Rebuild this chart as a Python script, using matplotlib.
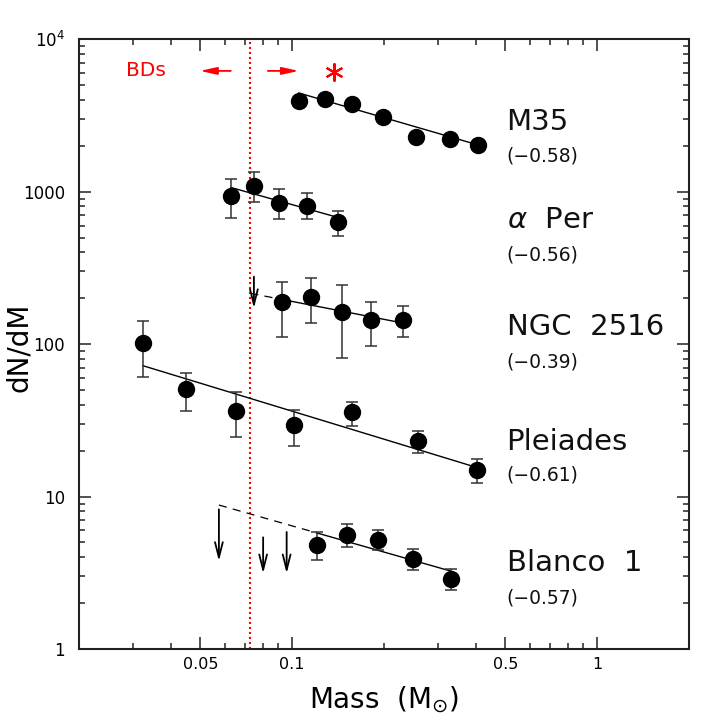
import matplotlib
matplotlib.use('Agg')
import matplotlib.pyplot as plt
import numpy as np
from matplotlib.ticker import FixedLocator, FixedFormatter, NullFormatter

plt.rcParams['font.family'] = ['DejaVu Sans']
plt.rcParams['mathtext.fontset'] = 'dejavusans'

# M35
m35_mass = [0.105, 0.128, 0.157, 0.198, 0.254, 0.329, 0.406]
m35_dndm = [3920, 4060, 3745, 3077, 2296, 2228, 2025]

# alpha Per
aper_mass = [0.0629, 0.0749, 0.0902, 0.112, 0.1416]
aper_dndm = [937, 1095, 847, 809, 630]
aper_hi = [1211, 1340, 1037, 976, 750]
aper_lo = [669, 852, 659, 659, 514]

# NGC 2516
ngc_mass = [0.0927, 0.1149, 0.1453, 0.1813, 0.2303]
ngc_dndm = [188, 205, 162.5, 143, 144.5]
ngc_hi = [257, 270, 245, 189, 177]
ngc_lo = [111, 137, 81.5, 97.6, 111]
ngc_lim_mass = [0.0749]
ngc_lim_top = [277]
ngc_lim_bot = [172]

# Pleiades
ple_mass = [0.0324, 0.045, 0.0652, 0.1015, 0.1574, 0.259, 0.4027]
ple_dndm = [101, 50.5, 36.6, 29.3, 35.7, 23.1, 14.9]
ple_hi = [142, 64.9, 48.5, 36.8, 41.7, 26.8, 17.6]
ple_lo = [61.1, 36.4, 24.5, 21.4, 29.1, 19.4, 12.2]

# Blanco 1
bla_mass = [0.1206, 0.1509, 0.1907, 0.2494, 0.3311]
bla_dndm = [4.81, 5.59, 5.18, 3.91, 2.89]
bla_hi = [5.82, 6.6, 6.0, 4.5, 3.33]
bla_lo = [3.83, 4.64, 4.43, 3.31, 2.44]
bla_lim_mass = [0.0575, 0.0803, 0.0959]
bla_lim_top = [8.24, 5.4, 5.85]
bla_lim_bot = [3.77, 3.13, 3.13]

# power-law fits: slope, reference mass, value at reference mass
cluster_names = ['M35', r'$\alpha$  Per', 'NGC  2516', 'Pleiades', 'Blanco  1']
fit_slopes = [-0.58, -0.56, -0.39, -0.61, -0.57]
fit_ref_mass = [0.198, 0.0629, 0.0725, 0.0324, 0.0575]
fit_ref_val = [3077, 1066, 216, 72.2, 8.8]

bd_limit = 0.0725

fig = plt.figure(figsize=(7.27, 7.27), dpi=100)
ax = fig.add_axes([0.1087, 0.1073, 0.8390, 0.8387])
ax.set_xscale('log')
ax.set_yscale('log')
ax.set_xlim(0.02, 2.0)
ax.set_ylim(1, 1e4)

marker_kw = dict(fmt='o', color='black', markersize=11.5, ecolor='#333333',
                 elinewidth=1.1, capsize=4.5, capthick=1.1, zorder=3)

ax.plot(m35_mass, m35_dndm, 'o', color='black', markersize=11.5, zorder=3)
for mass, val, hi, lo in [(aper_mass, aper_dndm, aper_hi, aper_lo),
                          (ngc_mass, ngc_dndm, ngc_hi, ngc_lo),
                          (ple_mass, ple_dndm, ple_hi, ple_lo),
                          (bla_mass, bla_dndm, bla_hi, bla_lo)]:
    val = np.array(val)
    yerr = [val - np.array(lo), np.array(hi) - val]
    ax.errorbar(mass, val, yerr=yerr, **marker_kw)

# fit lines (solid over data range, dashed over the upper-limit range)
data_masses = [m35_mass, aper_mass, ngc_mass, ple_mass, bla_mass]
dash_from = [None, None, ngc_lim_mass[0] - 0.002, None, bla_lim_mass[0]]
for masses, slope, m0, v0, d0 in zip(data_masses, fit_slopes, fit_ref_mass,
                                     fit_ref_val, dash_from):
    m = np.geomspace(masses[0], masses[-1], 50)
    ax.plot(m, v0 * (m / m0) ** slope, color='black', lw=1.0, zorder=2)
    if d0 is not None:
        m = np.geomspace(d0, masses[0], 50)
        ax.plot(m, v0 * (m / m0) ** slope, color='black', lw=0.9,
                dashes=(6.5, 5), zorder=2)

# upper limits
for lm, top, bot in zip(ngc_lim_mass + bla_lim_mass,
                        ngc_lim_top + bla_lim_top,
                        ngc_lim_bot + bla_lim_bot):
    ax.annotate('', xy=(lm, bot), xytext=(lm, top),
                arrowprops=dict(arrowstyle='->,head_length=1.1,head_width=0.28',
                                color='black', lw=1.3, shrinkA=0, shrinkB=0))

# hydrogen burning limit
ax.axvline(bd_limit, color='red', lw=1.5, linestyle=(0, (1, 1.4)), zorder=1)
ax.text(0.0331, 6200, 'BDs', color='red', fontsize=14.5, ha='center', va='center')
ax.annotate('', xy=(0.0498, 6200), xytext=(0.0629, 6200),
            arrowprops=dict(arrowstyle='-|>,head_length=1.0,head_width=0.22',
                            color='red', lw=1.3, shrinkA=0, shrinkB=0))
ax.annotate('', xy=(0.1052, 6200), xytext=(0.0832, 6200),
            arrowprops=dict(arrowstyle='-|>,head_length=1.0,head_width=0.22',
                            color='red', lw=1.3, shrinkA=0, shrinkB=0))
ax.plot([0.137], [6120], marker=(6, 2, 0), color='red', markersize=13,
        markeredgewidth=1.5, linestyle='none')

# cluster labels
name_y = [0.8645, 0.7036, 0.5285, 0.340, 0.1406]
slope_y = [0.8083, 0.6462, 0.4711, 0.2854, 0.0832]
for name, slope, ny, sy in zip(cluster_names, fit_slopes, name_y, slope_y):
    ax.text(0.701, ny, name, transform=ax.transAxes, fontsize=21,
            ha='left', va='center', color='#111111')
    ax.text(0.701, sy, '(\u2212%.2f)' % abs(slope), transform=ax.transAxes,
            fontsize=13.5, ha='left', va='center', color='#111111')

# ticks
xmajor = [0.05, 0.1, 0.5, 1]
xminor = [0.03, 0.04, 0.06, 0.07, 0.08, 0.09, 0.2, 0.3, 0.4,
          0.6, 0.7, 0.8, 0.9]
ax.xaxis.set_major_locator(FixedLocator(xmajor))
ax.xaxis.set_major_formatter(FixedFormatter(['0.05', '0.1', '0.5', '1']))
ax.xaxis.set_minor_locator(FixedLocator(xminor))
ax.xaxis.set_minor_formatter(NullFormatter())

ymajor = [1, 10, 100, 1000, 1e4]
ax.yaxis.set_major_locator(FixedLocator(ymajor))
ax.yaxis.set_major_formatter(FixedFormatter(['1', '10', '100', '1000', '10$^4$']))
yminor = [k * 10 ** e for e in range(4) for k in range(2, 10)]
ax.yaxis.set_minor_locator(FixedLocator(yminor))
ax.yaxis.set_minor_formatter(NullFormatter())

ax.tick_params(which='both', direction='in', top=True, right=True,
               color='#222222', width=1.1)
ax.tick_params(which='major', length=8.4)
ax.tick_params(which='minor', length=4.3)
ax.tick_params(axis='y', which='major', labelsize=12, pad=10)
ax.tick_params(axis='x', which='major', labelsize=11.5, pad=6)
for s in ax.spines.values():
    s.set_linewidth(1.5)
    s.set_color('#222222')

ax.set_xlabel(r'Mass  (M$_{\odot}$)', fontsize=20, labelpad=9)
fig.text(19 / 727, 0.522, 'dN/dM', fontsize=20, rotation=90,
         ha='center', va='center')

fig.savefig('out.png', dpi=100)
